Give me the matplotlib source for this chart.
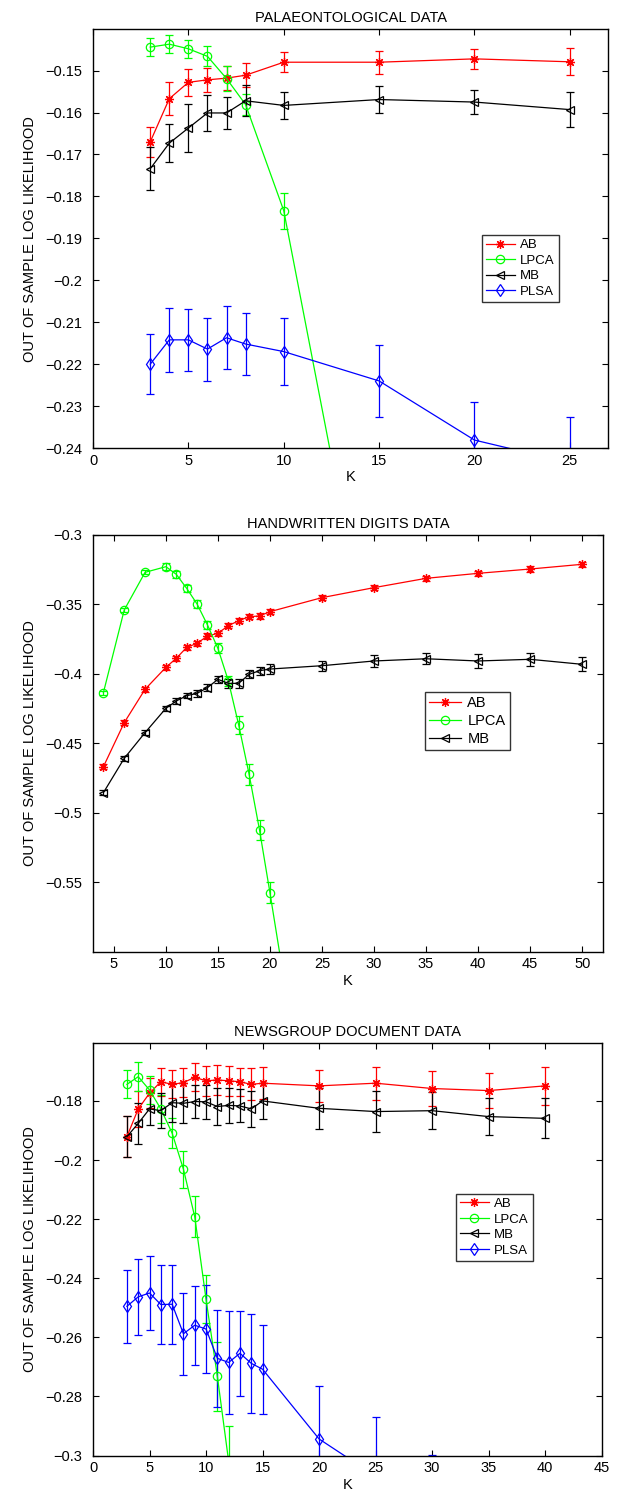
import matplotlib
matplotlib.use("Agg")
import matplotlib.pyplot as plt
from matplotlib.lines import Line2D

plt.rcParams['font.family'] = ['Liberation Sans', 'DejaVu Sans']

# ---------------- Panel 1: palaeontological ----------------
p1_k = [3, 4, 5, 6, 7, 8, 10, 15, 20, 25]
p1_ab = [-0.1670, -0.1567, -0.1528, -0.1522, -0.1518, -0.1511, -0.1480, -0.1480, -0.1472, -0.1479]
p1_ab_err = [0.0036, 0.0039, 0.0032, 0.0028, 0.0028, 0.0028, 0.0024, 0.0027, 0.0024, 0.0032]
p1_lpca_k = [3, 4, 5, 6, 7, 8, 10, 15]
p1_lpca = [-0.1444, -0.1437, -0.1448, -0.1466, -0.1519, -0.1581, -0.1834, -0.3010]
p1_lpca_err = [0.0022, 0.0021, 0.0022, 0.0024, 0.0029, 0.0026, 0.0043, 0.0060]
p1_mb = [-0.1734, -0.1673, -0.1637, -0.1601, -0.1601, -0.1572, -0.1583, -0.1569, -0.1575, -0.1593]
p1_mb_err = [0.0051, 0.0045, 0.0058, 0.0043, 0.0039, 0.0037, 0.0032, 0.0032, 0.0029, 0.0041]
p1_plsa = [-0.2200, -0.2142, -0.2142, -0.2164, -0.2137, -0.2152, -0.2170, -0.2240, -0.2381, -0.2435]
p1_plsa_err = [0.0071, 0.0076, 0.0074, 0.0075, 0.0075, 0.0073, 0.0080, 0.0085, 0.0090, 0.0110]
p1_xticks = [0, 5, 10, 15, 20, 25]
p1_yticks = [-0.15, -0.16, -0.17, -0.18, -0.19, -0.2, -0.21, -0.22, -0.23, -0.24]

# ---------------- Panel 2: handwritten digits ----------------
p2_k = [4, 6, 8, 10, 11, 12, 13, 14, 15, 16, 17, 18, 19, 20, 25, 30, 35, 40, 45, 50]
p2_ab = [-0.4668, -0.4351, -0.4111, -0.3953, -0.3888, -0.3809, -0.3780, -0.3727, -0.3708, -0.3653,
         -0.3617, -0.3588, -0.3583, -0.3552, -0.3451, -0.3379, -0.3312, -0.3276, -0.3245, -0.3211]
p2_ab_err = [0.0018, 0.0018, 0.0018, 0.0018, 0.0018, 0.0018, 0.0018, 0.0020, 0.0020, 0.0020,
             0.0020, 0.0020, 0.0020, 0.0020, 0.0020, 0.0020, 0.0020, 0.0020, 0.0020, 0.0020]
p2_lpca_k = [4, 6, 8, 10, 11, 12, 13, 14, 15, 16, 17, 18, 19, 20, 25]
p2_lpca = [-0.4135, -0.3540, -0.3269, -0.3228, -0.3283, -0.3384, -0.3497, -0.3648, -0.3816, -0.4049,
           -0.4368, -0.4723, -0.5124, -0.5575, -0.7900]
p2_lpca_err = [0.0015, 0.0015, 0.0015, 0.0025, 0.0025, 0.0025, 0.0030, 0.0030, 0.0036, 0.0036,
               0.0062, 0.0076, 0.0072, 0.0076, 0.0100]
p2_mb = [-0.4855, -0.4608, -0.4423, -0.4248, -0.4195, -0.4157, -0.4140, -0.4099, -0.4039, -0.4068,
         -0.4068, -0.4003, -0.3977, -0.3965, -0.3941, -0.3907, -0.3891, -0.3907, -0.3895, -0.3931]
p2_mb_err = [0.0020, 0.0020, 0.0020, 0.0020, 0.0020, 0.0020, 0.0025, 0.0025, 0.0025, 0.0030,
             0.0030, 0.0030, 0.0030, 0.0036, 0.0036, 0.0042, 0.0040, 0.0050, 0.0048, 0.0050]
p2_xticks = [5, 10, 15, 20, 25, 30, 35, 40, 45, 50]
p2_yticks = [-0.3, -0.35, -0.4, -0.45, -0.5, -0.55]

# ---------------- Panel 3: newsgroup documents ----------------
p3_k = [3, 4, 5, 6, 7, 8, 9, 10, 11, 12, 13, 14, 15, 20, 25, 30, 35, 40]
p3_ab = [-0.1921, -0.1827, -0.1774, -0.1735, -0.1744, -0.1738, -0.1720, -0.1732, -0.1729, -0.1732,
         -0.1735, -0.1744, -0.1740, -0.1749, -0.1740, -0.1758, -0.1765, -0.1749]
p3_ab_err = [0.0069, 0.0060, 0.0050, 0.0048, 0.0047, 0.0050, 0.0048, 0.0050, 0.0052, 0.0050,
             0.0047, 0.0054, 0.0054, 0.0055, 0.0056, 0.0059, 0.0058, 0.0064]
p3_lpca_k = [3, 4, 5, 6, 7, 8, 9, 10, 11, 12, 13]
p3_lpca = [-0.1744, -0.1718, -0.1763, -0.1827, -0.1909, -0.2031, -0.2192, -0.2471, -0.2732, -0.3020, -0.3350]
p3_lpca_err = [0.0047, 0.0049, 0.0049, 0.0048, 0.0050, 0.0062, 0.0070, 0.0082, 0.0117, 0.0120, 0.0130]
p3_mb = [-0.1921, -0.1876, -0.1827, -0.1833, -0.1806, -0.1808, -0.1802, -0.1803, -0.1819, -0.1815,
         -0.1817, -0.1827, -0.1800, -0.1825, -0.1836, -0.1833, -0.1853, -0.1859]
p3_mb_err = [0.0069, 0.0070, 0.0056, 0.0059, 0.0065, 0.0068, 0.0056, 0.0058, 0.0064, 0.0060,
             0.0056, 0.0060, 0.0060, 0.0070, 0.0068, 0.0062, 0.0062, 0.0068]
p3_plsa_k = [3, 4, 5, 6, 7, 8, 9, 10, 11, 12, 13, 14, 15, 20, 25, 30]
p3_plsa = [-0.2495, -0.2463, -0.2450, -0.2489, -0.2488, -0.2588, -0.2559, -0.2572, -0.2671, -0.2685,
           -0.2654, -0.2688, -0.2708, -0.2944, -0.3070, -0.3220]
p3_plsa_err = [0.0123, 0.0128, 0.0125, 0.0133, 0.0134, 0.0139, 0.0134, 0.0148, 0.0164, 0.0173,
               0.0144, 0.0168, 0.0150, 0.0180, 0.0200, 0.0223]
p3_xticks = [0, 5, 10, 15, 20, 25, 30, 35, 40, 45]
p3_yticks = [-0.18, -0.2, -0.22, -0.24, -0.26, -0.28, -0.3]

labels = ['AB', 'LPCA', 'MB', 'PLSA']
colors = ['#ff0000', '#00ff00', '#000000', '#0000ff']
markers = [(8, 2, 0), 'o', '<', 'd']
msizes = [6.5, 6, 6, 6]


def fmt(v):
    s = ('%.3f' % abs(v)).rstrip('0').rstrip('.')
    return ('\u2212' + s) if v < 0 else s


fig = plt.figure(figsize=(6.37, 14.99), dpi=100)

panels = [
    dict(rect=[0.146, 0.7011, 0.8085, 0.2795], title='PALAEONTOLOGICAL DATA',
         series=[(p1_k, p1_ab, p1_ab_err), (p1_lpca_k, p1_lpca, p1_lpca_err),
                 (p1_k, p1_mb, p1_mb_err), (p1_k, p1_plsa, p1_plsa_err)],
         xlim=(0, 27), ylim=(-0.24, -0.1401), xticks=p1_xticks, yticks=p1_yticks,
         leg=(0.755, 0.349), legfs=9.5),
    dict(rect=[0.146, 0.3651, 0.8006, 0.278], title='HANDWRITTEN DIGITS DATA',
         series=[(p2_k, p2_ab, p2_ab_err), (p2_lpca_k, p2_lpca, p2_lpca_err),
                 (p2_k, p2_mb, p2_mb_err)],
         xlim=(3, 52), ylim=(-0.6, -0.3), xticks=p2_xticks, yticks=p2_yticks,
         leg=(0.651, 0.484), legfs=10.5),
    dict(rect=[0.146, 0.029, 0.7986, 0.275], title='NEWSGROUP DOCUMENT DATA',
         series=[(p3_k, p3_ab, p3_ab_err), (p3_lpca_k, p3_lpca, p3_lpca_err),
                 (p3_k, p3_mb, p3_mb_err), (p3_plsa_k, p3_plsa, p3_plsa_err)],
         xlim=(0, 45), ylim=(-0.3, -0.1605), xticks=p3_xticks, yticks=p3_yticks,
         leg=(0.713, 0.473), legfs=9.5),
]

for p in panels:
    ax = fig.add_axes(p['rect'])
    for i, (k, v, e) in enumerate(p['series']):
        ax.errorbar(k, v, yerr=e, color=colors[i], marker=markers[i], ms=msizes[i],
                    mfc='none', mec=colors[i], mew=0.9, lw=0.9, elinewidth=0.9,
                    capsize=3.2, capthick=0.9, label=labels[i])
    ax.set_xlim(*p['xlim'])
    ax.set_ylim(*p['ylim'])
    ax.set_xticks(p['xticks'])
    ax.set_yticks(p['yticks'])
    ax.set_yticklabels([fmt(t) for t in p['yticks']])
    ax.tick_params(direction='in', top=True, right=True, length=4, width=0.8,
                   labelsize=10.5, colors='black')
    ax.tick_params(axis='y', pad=8)
    ax.tick_params(axis='x', pad=4)
    for s in ax.spines.values():
        s.set_linewidth(1.0)
    ax.set_title(p['title'], fontsize=10.5, pad=5)
    ax.set_xlabel('K', fontsize=10.5, labelpad=2)
    ax.set_ylabel('OUT OF SAMPLE LOG LIKELIHOOD', fontsize=10.5, labelpad=6)
    n = len(p['series'])
    lh = [Line2D([], [], color=colors[i], marker=markers[i], ms=msizes[i], mfc='none',
                 mec=colors[i], mew=0.9, lw=0.9) for i in range(n)]
    leg = ax.legend(lh, labels[:n], loc='lower left', bbox_to_anchor=p['leg'],
                    fontsize=p['legfs'], frameon=True, fancybox=False, handlelength=2.2,
                    handletextpad=0.4, borderpad=0.3, labelspacing=0.25, borderaxespad=0)
    leg.get_frame().set_edgecolor('black')
    leg.get_frame().set_linewidth(1.0)

fig.savefig('out.png', dpi=100)
